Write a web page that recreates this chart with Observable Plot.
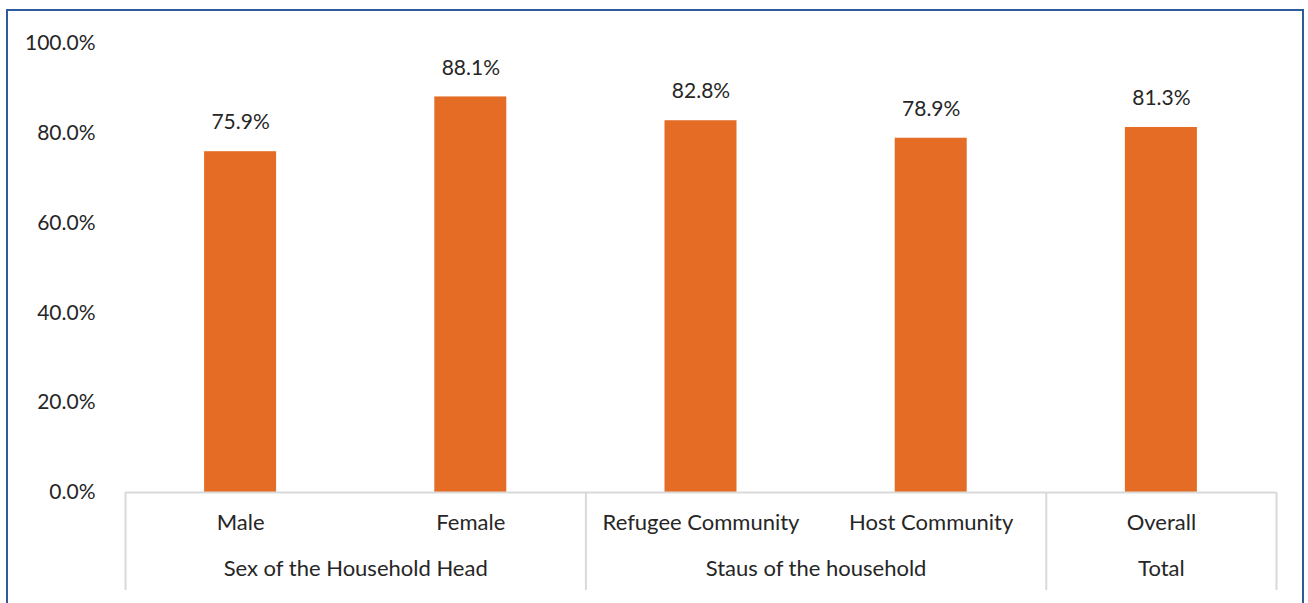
<!DOCTYPE html>
<html>
<head>
<meta charset="utf-8">
<script src="https://cdn.jsdelivr.net/npm/d3@7"></script>
<script src="https://cdn.jsdelivr.net/npm/@observablehq/plot@0.6"></script>
<style>
  html, body { margin: 0; padding: 0; background: #fff; }
  #wrap { position: relative; width: 1308px; height: 603px; overflow: hidden; }
  #border { position: absolute; left: 6px; top: 9px; width: 1298px; height: 620px; border: 2px solid #2F5A9E; box-sizing: border-box; }
  #chart { position: absolute; left: 0; top: 0; }
</style>
</head>
<body>
<div id="wrap"><div id="border"></div><div id="chart"></div></div>
<script>
const categories = ["Male", "Female", "Refugee Community", "Host Community", "Overall"];
const values = [75.9, 88.1, 82.8, 78.9, 81.3];
const groups = ["Sex of the Household Head", "Staus of the household", "Total"];
const groupSizes = [2, 2, 1];
const yTicks = [0, 20, 40, 60, 80, 100];

const data = categories.map((c, i) => ({i, category: c, value: values[i]}));
let start = 0;
const groupData = groups.map((g, k) => { const d = {group: g, start, size: groupSizes[k]}; start += groupSizes[k]; return d; });
const boundaries = groupData.map(d => d.start).concat([start]);

const W = 1308, H = 603, ML = 125, MR = 32;
const step = (W - ML - MR) / categories.length;
const barW = 72;
const inset = (step - barW) / 2;
const font = "Lato, 'Open Sans', sans-serif";

const chart = Plot.plot({
  width: W,
  height: H,
  marginLeft: ML,
  marginRight: MR,
  marginTop: 43,
  marginBottom: 111,
  style: {fontFamily: font, fontSize: "21px", color: "#262626", background: "transparent"},
  x: {type: "linear", domain: [0, categories.length], axis: null, label: null},
  y: {domain: [0, 100], axis: null, label: null},
  marks: [
    Plot.rectY(data, {x1: "i", x2: d => d.i + 1, y: "value", fill: "#E46C25", insetLeft: inset, insetRight: inset}),
    Plot.ruleY([0], {stroke: "#D9D9D9", strokeWidth: 2}),
    Plot.axisX(boundaries, {tickSize: 98, stroke: "#D9D9D9", strokeWidth: 2, tickFormat: () => "", label: null}),
    Plot.axisX(data.map(d => d.i + 0.5), {tickSize: 0, tickPadding: 22, tickFormat: v => categories[Math.floor(v)], fontSize: 22, fill: "#262626", label: null}),
    Plot.axisX(groupData.map(d => d.start + d.size / 2), {tickSize: 0, tickPadding: 68, tickFormat: v => groupData.find(d => d.start + d.size / 2 === v).group, fontSize: 22, fill: "#262626", label: null}),
    Plot.axisY(yTicks, {tickSize: 0, tickPadding: 30, tickFormat: v => v.toFixed(1) + "%", fontSize: 21, fill: "#262626", label: null}),
    Plot.text(data, {x: d => d.i + 0.5, y: "value", text: d => d.value.toFixed(1) + "%", dy: -29, fontSize: 21, fill: "#262626"})
  ]
});
document.getElementById("chart").appendChild(chart);
</script>
</body>
</html>
